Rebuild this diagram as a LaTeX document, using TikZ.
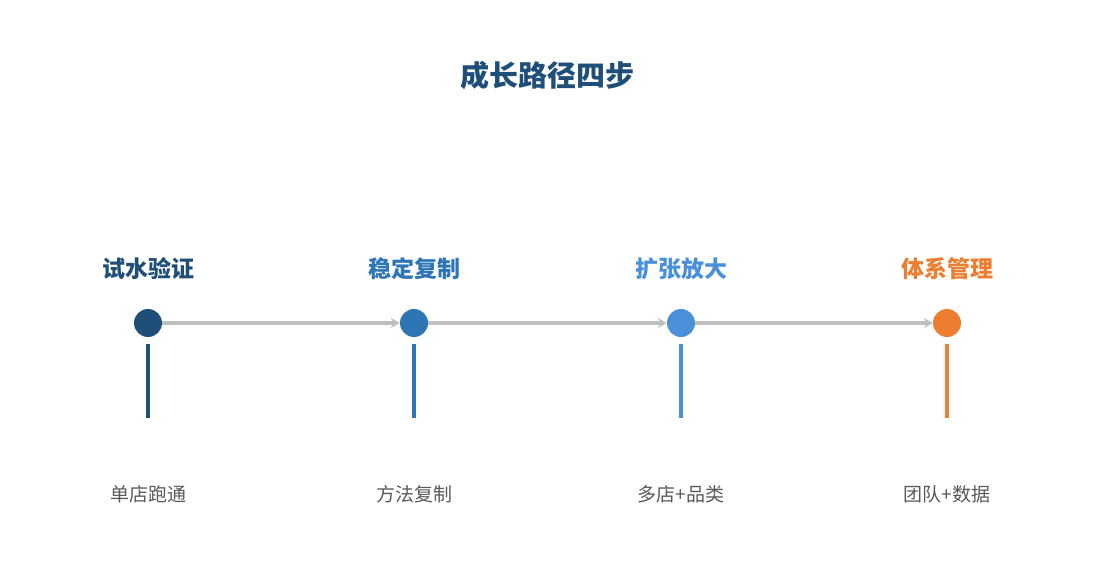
\documentclass[tikz,border=0pt]{standalone}
\usepackage{fontspec}
\setmainfont{Noto Sans CJK SC}
\usetikzlibrary{arrows.meta}
\definecolor{cA}{HTML}{1F4E79}
\definecolor{cB}{HTML}{2E75B6}
\definecolor{cC}{HTML}{4A90D9}
\definecolor{cD}{HTML}{ED7D31}
\definecolor{lnG}{HTML}{BFBFBF}
\definecolor{txG}{HTML}{595959}
\tikzset{
  dot/.style={circle,fill=#1,minimum size=28pt,inner sep=0pt},
  head/.style={font=\fontsize{23}{27}\selectfont\bfseries,text=#1},
  sub/.style={font=\fontsize{19}{23}\selectfont,text=txG},
  stem/.style={draw=#1,line width=4pt},
  link/.style={draw=lnG,line width=3.5pt,-{Stealth[length=9pt,width=10pt,inset=3pt]}},
}
\begin{document}
\begin{tikzpicture}[x=1pt,y=-1pt]
\useasboundingbox (0,0) rectangle (1095,585);
\node[font=\fontsize{29}{33}\selectfont\bfseries,text=cA] (title) at (547,75) {成长路径四步};
\foreach \n/\x/\c/\h/\s in {1/148/cA/试水验证/单店跑通, 2/414/cB/稳定复制/方法复制, 3/681/cC/扩张放大/多店+品类, 4/947/cD/体系管理/团队+数据}{
  \node[dot=\c] (d\n) at (\x,323) {};
  \node[head=\c] (h\n) at (\x,269) {\h};
  \node[sub] (s\n) at (\x,494) {\s};
  \coordinate (t\n) at (\x,344);
  \coordinate (b\n) at (\x,418);
  \draw[stem=\c] (t\n) -- (b\n);
}
\draw[link] (d1) -- (d2);
\draw[link] (d2) -- (d3);
\draw[link] (d3) -- (d4);
\end{tikzpicture}
\end{document}
